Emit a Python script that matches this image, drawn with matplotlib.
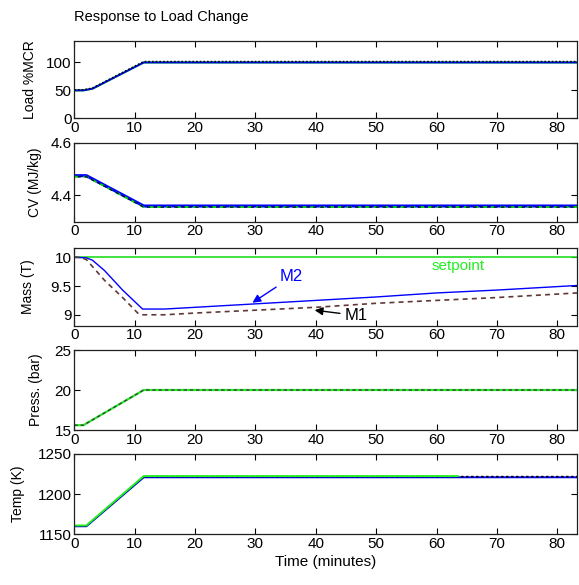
import matplotlib
matplotlib.use('Agg')
import matplotlib.pyplot as plt
import numpy as np

plt.rcParams['font.family'] = ['Liberation Sans', 'DejaVu Sans']

# time axis
t_end = 83.3
xticks = [0, 10, 20, 30, 40, 50, 60, 70, 80]

# Load %MCR
load_t = [0, 1.5, 3, 11.5, t_end]
load_act = [50, 50, 53, 100, 100]
load_dem = [51, 51, 54, 101.5, 101.5]

# CV (MJ/kg)
cv_t = [0, 2, 11.5, t_end]
cv_a = [4.474, 4.474, 4.358, 4.358]
cv_b = [4.470, 4.470, 4.354, 4.354]

# Mass (T)
m2_t = [0, 2, 3, 5, 8, 11.3, 15, 20, 30, 40, 50, 60, 70, t_end]
m2 = [10, 9.99, 9.95, 9.77, 9.43, 9.10, 9.10, 9.13, 9.19, 9.25, 9.31, 9.38, 9.43, 9.51]
m1_t = [0, 1, 2, 5, 8, 10.5, 11, 15, 20, 30, 40, 50, 60, 70, t_end]
m1 = [10, 10, 9.96, 9.60, 9.30, 9.03, 9.0, 9.0, 9.03, 9.08, 9.13, 9.20, 9.25, 9.30, 9.38]
setpoint = 10.0

# Press. (bar)
p_t = [0, 1.5, 11.5, t_end]
p_val = [15.6, 15.6, 20.0, 20.0]

# Temp (K)
tk_t = [0, 2, 11.5, t_end]
tk_blue = [1160, 1160, 1221, 1221]
tk_black = [1160.5, 1160.5, 1221.8, 1221.8]
tkg_t = [0, 2, 11.5, 63.5]
tk_green = [1161, 1161, 1222.5, 1222.5]

# panel pixel edges (top, bottom) in a 579x585 figure
W, H = 579.0, 585.0
left_px, right_px = 74.3, 577.3
panels = [(40.7, 118.3), (142.7, 221.7), (247.7, 325.7), (350.0, 430.0), (454.0, 534.3)]

fig = plt.figure(figsize=(5.79, 5.85), dpi=100)
axes = []
for top, bot in panels:
    ax = fig.add_axes([left_px / W, (H - bot) / H, (right_px - left_px) / W, (bot - top) / H])
    ax.set_xlim(0, t_end)
    ax.set_xticks(xticks)
    ax.tick_params(direction='in', top=True, right=True, length=4, width=0.8,
                   labelsize=11, pad=2, colors='black')
    for s in ax.spines.values():
        s.set_linewidth(0.9)
        s.set_color('#202020')
    axes.append(ax)

ax1, ax2, ax3, ax4, ax5 = axes

# Load
ax1.plot(load_t, load_act, color='#00dd00', lw=1.5)
ax1.plot(load_t, load_act, color='#0000ff', lw=1.3)
ax1.plot(load_t, load_dem, color='black', lw=1.2, ls=(0, (1, 1.2)))
ax1.set_ylim(0, 139)
ax1.set_yticks([0, 50, 100])
ax1.set_title('Response to Load Change', loc='left', fontsize=10.5, pad=14)

# CV
ax2.plot(cv_t, cv_a, color='#0000ff', lw=2.2)
ax2.plot(cv_t, cv_b, color='#00dd00', lw=1.3, ls=(0, (3, 2)))
ax2.plot(cv_t, cv_b, color='#000060', lw=1.0, ls=(2.5, (2.5, 2.5)))
ax2.set_ylim(4.298, 4.6)
ax2.set_yticks([4.4, 4.6])

# Mass
ax3.axhline(setpoint, color='#22dd22', lw=1.2)
ax3.plot(m2_t, m2, color='#0000ff', lw=1.0)
ax3.plot(m1_t, m1, color='#603838', lw=1.2, ls=(0, (3, 2.5)))
ax3.set_ylim(8.81, 10.167)
ax3.set_yticks([9, 9.5, 10])
ax3.set_yticklabels(['9', '9.5', '10'])
ax3.text(63.6, 9.84, 'setpoint', color='#22ee22', fontsize=11, ha='center', va='center')
ax3.annotate('M2', xy=(29.5, 9.21), xytext=(36.0, 9.66), color='#0000ff', fontsize=12,
             ha='center', va='center',
             arrowprops=dict(arrowstyle='-|>', color='#0000ff', lw=1, shrinkA=1, shrinkB=0,
                             mutation_scale=12))
ax3.annotate('M1', xy=(39.8, 9.08), xytext=(46.6, 8.99), color='black', fontsize=12,
             ha='center', va='center',
             arrowprops=dict(arrowstyle='-|>', color='black', lw=1, shrinkA=1, shrinkB=0,
                             mutation_scale=12))

# Press
ax4.plot(p_t, p_val, color='#22ee22', lw=1.6)
ax4.plot(p_t, p_val, color='#404040', lw=1.0, ls=(0, (2.5, 2)))
ax4.set_ylim(15, 25)
ax4.set_yticks([15, 20, 25])

# Temp
ax5.plot(tk_t, tk_blue, color='#0000ff', lw=1.4)
ax5.plot(tk_t, tk_black, color='black', lw=1.2, ls=(0, (1.5, 1.5)))
ax5.plot(tkg_t, tk_green, color='#22ee22', lw=1.4)
ax5.set_ylim(1150, 1250)
ax5.set_yticks([1150, 1200, 1250])
ax5.set_xlabel('Time (minutes)', fontsize=11, labelpad=3)

ylabels = ['Load %MCR', 'CV (MJ/kg)', 'Mass (T)', 'Press. (bar)', 'Temp (K)']
label_x = [-0.075, -0.065, -0.078, -0.062, -0.098]
for ax, lab, lx in zip(axes, ylabels, label_x):
    ax.set_ylabel(lab, fontsize=10)
    ax.yaxis.set_label_coords(lx, 0.5)

fig.savefig('out.png', dpi=100)
